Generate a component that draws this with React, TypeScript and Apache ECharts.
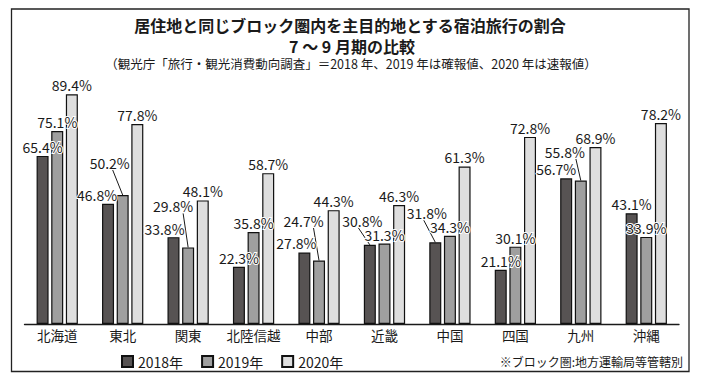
import React, { useEffect, useRef } from "react";
import * as echarts from "echarts";

const categories = ["北海道", "東北", "関東", "北陸信越", "中部", "近畿", "中国", "四国", "九州", "沖縄"];
const values2018 = [65.4, 46.8, 33.8, 22.3, 27.8, 30.8, 31.8, 21.1, 56.7, 43.1];
const values2019 = [75.1, 50.2, 29.8, 35.8, 24.7, 31.3, 34.3, 30.1, 55.8, 33.9];
const values2020 = [89.4, 77.8, 48.1, 58.7, 44.3, 46.3, 61.3, 72.8, 68.9, 78.2];
const seriesNames = ["2018年", "2019年", "2020年"];

const titleLine1 = "居住地と同じブロック圏内を主目的地とする宿泊旅行の割合";
const titleLine2 = "7 ～ 9 月期の比較";
const subtitle = "（観光庁「旅行・観光消費動向調査」＝2018 年、2019 年は確報値、2020 年は速報値）";
const note = "※ブロック圏:地方運輸局等管轄別";

// label placement tweaks: [dx, dy, leader line start x offset from label centre (null = no leader)]
type Tweak = [number, number, number | null];
const labelTweaks2018: Record<number, Tweak> = {
  1: [-11, 0, null],
  2: [-9, 1, null],
  4: [-8, -1, null],
  5: [-7.5, -15, -4],
  6: [-8.5, -20, -3],
  8: [-10, 0, null],
};
const labelTweaks2019: Record<number, Tweak> = {
  1: [-13, -23, 3],
  2: [-15, -32, 10],
  4: [-15.5, -30.5, 10],
  8: [-16, -20, 11],
};
const labelTweaks2020: Record<number, Tweak> = {};

const FONT = '"Noto Sans CJK JP", "Noto Sans", sans-serif';
const colors = ["#575353", "#9f9f9f", "#dedede"];

export default function App() {
  const ref = useRef<HTMLDivElement>(null);
  useEffect(() => {
    if (!ref.current) return;
    const chart = echarts.init(ref.current, undefined, { renderer: "svg" });
    const allVals = [values2018, values2019, values2020];
    const allTweaks = [labelTweaks2018, labelTweaks2019, labelTweaks2020];
    const frame = {
      id: "frame",
      type: "rect",
      shape: { x: 11.5, y: 9, width: 677.5, height: 362.5 },
      style: { fill: "none", stroke: "#222", lineWidth: 1.3 },
      silent: true,
    };
    chart.setOption({
      animation: false,
      backgroundColor: "#ffffff",
      textStyle: { fontFamily: FONT },
      title: [
        {
          text: titleLine1,
          left: 350,
          top: 17,
          textAlign: "center",
          padding: 0,
          textStyle: { fontFamily: FONT, fontSize: 16, fontWeight: "bold", color: "#1a1a1a", lineHeight: 16 },
        },
        {
          text: titleLine2,
          left: 352,
          top: 38,
          textAlign: "center",
          padding: 0,
          textStyle: { fontFamily: FONT, fontSize: 16, fontWeight: "bold", color: "#1a1a1a", lineHeight: 16 },
        },
        {
          text: subtitle,
          left: 351,
          top: 57,
          textAlign: "center",
          padding: 0,
          textStyle: { fontFamily: FONT, fontSize: 12.5, fontWeight: "normal", color: "#1a1a1a", lineHeight: 12.5 },
        },
        {
          text: note,
          left: 683,
          top: 355,
          textAlign: "right",
          padding: 0,
          textStyle: { fontFamily: FONT, fontSize: 12, fontWeight: "normal", color: "#1a1a1a", lineHeight: 12 },
        },
      ],
      graphic: [frame],
      legend: {
        data: seriesNames,
        left: 121,
        top: 354.5,
        padding: 0,
        itemWidth: 11,
        itemHeight: 11,
        itemGap: 18,
        icon: "rect",
        textStyle: { fontFamily: FONT, fontSize: 14, color: "#1a1a1a", padding: [0, 0, 0, 0] },
      },
      grid: { left: 24.5, top: 67, width: 654.5, height: 257 },
      xAxis: {
        type: "category",
        data: categories,
        axisLine: { show: true, lineStyle: { color: "#1a1a1a", width: 1.3 } },
        axisTick: { show: false },
        axisLabel: { margin: 4.5, fontFamily: FONT, fontSize: 13.5, color: "#1a1a1a", interval: 0 },
      },
      yAxis: {
        type: "value",
        min: 0,
        max: 100,
        show: false,
        splitLine: { show: false },
      },
      series: seriesNames.map((name, si) => ({
        type: "bar",
        name,
        data: allVals[si],
        barWidth: 12,
        barGap: "22%",
        z: 2,
        itemStyle: { color: colors[si], borderColor: "#111", borderWidth: 1.2 },
        label: {
          show: true,
          position: "top",
          distance: 2,
          formatter: (p: any) => Number(p.value).toFixed(1) + "%",
          fontFamily: FONT,
          fontSize: 14,
          color: "#1a1a1a",
          textBorderColor: "#ffffff",
          textBorderWidth: 2,
        },
        labelLayout: (params: any) => {
          const t = allTweaks[si][params.dataIndex];
          if (!t) return {};
          return { dx: t[0], dy: t[1] };
        },
      })),
    });

    // leader lines derived from the library's own bar layout
    const model: any = (chart as any).getModel();
    const leaders: any[] = [];
    seriesNames.forEach((_, si) => {
      const data = model.getSeriesByIndex(si).getData();
      Object.keys(allTweaks[si]).forEach((k) => {
        const idx = Number(k);
        const t = allTweaks[si][idx];
        if (t[2] === null) return;
        const lay = data.getItemLayout(idx);
        if (!lay) return;
        const cx = lay.x + lay.width / 2;
        const top = Math.min(lay.y, lay.y + lay.height);
        leaders.push({
          type: "line",
          id: `leader-${si}-${idx}`,
          silent: true,
          z: 1,
          shape: { x1: cx + t[0] + (t[2] as number), y1: top + t[1] - 2, x2: cx, y2: top },
          style: { stroke: "#1a1a1a", lineWidth: 1 },
        });
      });
    });
    chart.setOption({ graphic: [frame, ...leaders] });
    return () => chart.dispose();
  }, []);
  return (
    <div
      ref={ref}
      style={{ position: "fixed", left: 0, top: 0, width: 715, height: 382, background: "#fff" }}
    />
  );
}
